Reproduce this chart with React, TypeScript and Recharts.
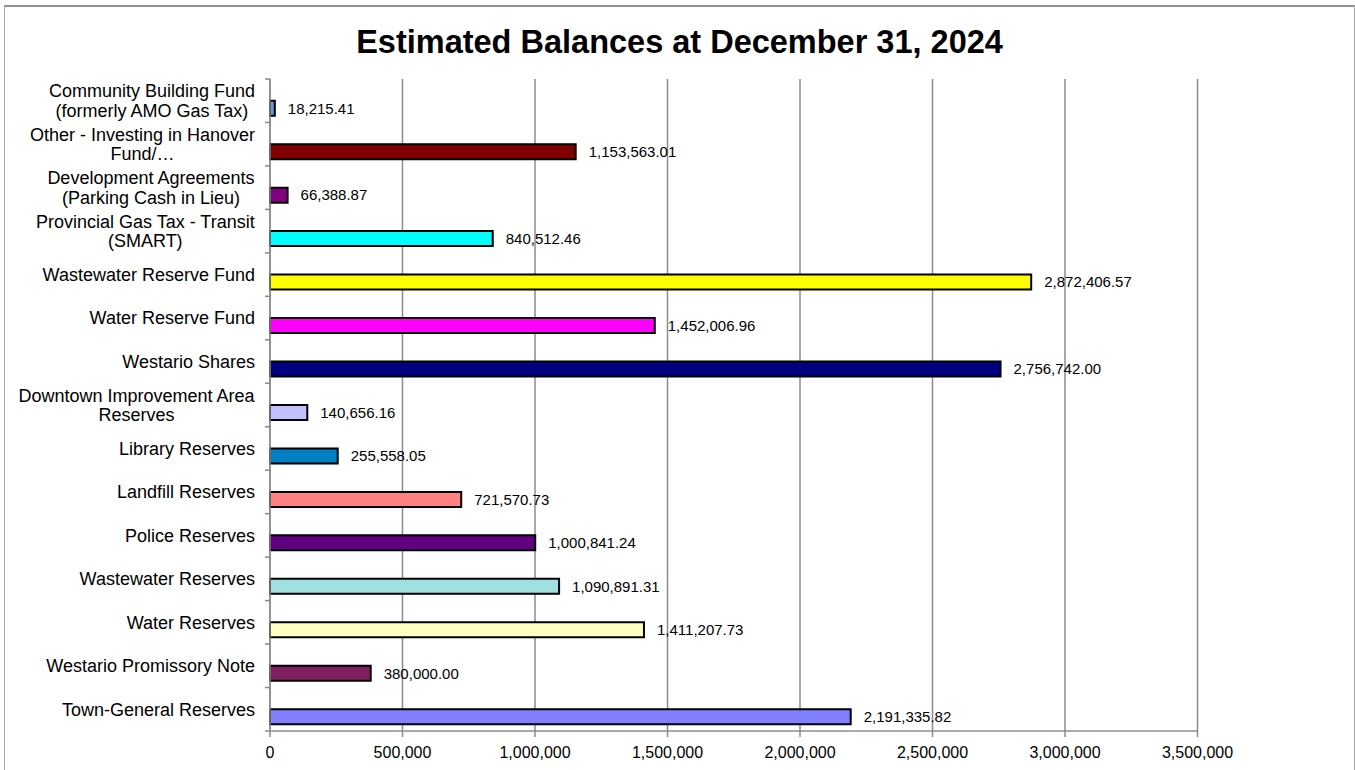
import { Bar, BarChart, CartesianGrid, Cell, LabelList, XAxis, YAxis } from 'recharts';

// top-to-bottom, as shown in the chart
const categories = [
  'Community Building Fund\n(formerly AMO Gas Tax)',
  'Other - Investing in Hanover\nFund/…',
  'Development Agreements\n(Parking Cash in Lieu)',
  'Provincial Gas Tax - Transit\n(SMART)',
  'Wastewater Reserve Fund',
  'Water Reserve Fund',
  'Westario Shares',
  'Downtown Improvement Area\nReserves',
  'Library Reserves',
  'Landfill Reserves',
  'Police Reserves',
  'Wastewater Reserves',
  'Water Reserves',
  'Westario Promissory Note',
  'Town-General Reserves',
];

const balances = [
  18215.41, 1153563.01, 66388.87, 840512.46, 2872406.57, 1452006.96, 2756742.0, 140656.16,
  255558.05, 721570.73, 1000841.24, 1090891.31, 1411207.73, 380000.0, 2191335.82,
];

const barColors = [
  '#5a9ad8', '#800000', '#800080', '#00ffff', '#ffff00', '#ff00ff', '#000080', '#c0c0ff',
  '#0080c0', '#ff8080', '#600080', '#a0e0e0', '#ffffc0', '#802060', '#8080ff',
];

const xTicks = [0, 500000, 1000000, 1500000, 2000000, 2500000, 3000000, 3500000];

const data = categories.map((name, i) => ({ name, value: balances[i] }));

const FONT = '"Liberation Sans", Arial, sans-serif';
const fmtTick = (v: number) => v.toLocaleString('en-US');
const fmtLabel = (v: any) =>
  Number(v).toLocaleString('en-US', { minimumFractionDigits: 2, maximumFractionDigits: 2 });

let ctx: CanvasRenderingContext2D | null = null;
const textWidth = (s: string) => {
  if (!ctx) {
    ctx = document.createElement('canvas').getContext('2d');
    if (ctx) ctx.font = '18px "Liberation Sans", Arial, sans-serif';
  }
  return ctx ? ctx.measureText(s).width : s.length * 9;
};

const CategoryTick = (props: any) => {
  const { x, y, payload, index } = props;
  const lines = String(payload.value).split('\n');
  const half = payload.offset ?? 0;
  const multi = lines.length > 1;
  const blockW = Math.max(...lines.map(textWidth));
  const tx = multi ? x - blockW / 2 : x;
  return (
    <g>
      <text x={tx} y={y} textAnchor={multi ? 'middle' : 'end'} fontSize={18} fill="#000" fontFamily={FONT}>
        {lines.map((line, i) => (
          <tspan key={i} x={tx} dy={i === 0 ? `${0.355 - (lines.length - 1) * 0.54}em` : '1.08em'}>
            {line}
          </tspan>
        ))}
      </text>
      <line x1={x + 10} x2={x + 15} y1={y + half} y2={y + half} stroke="#888" strokeWidth={1.5} />
      {index === 0 && <line x1={x + 10} x2={x + 15} y1={y - half} y2={y - half} stroke="#888" strokeWidth={1.5} />}
    </g>
  );
};

export default function App() {
  return (
    <div style={{ position: 'absolute', left: 0, top: 0, width: 1355, height: 770, background: '#fff' }}>
      <div
        style={{
          position: 'absolute',
          left: 4,
          top: 5,
          width: 1349,
          height: 763,
          borderLeft: '1px solid #a8a8a8',
          borderRight: '1px solid #a8a8a8',
          borderTop: '2px solid #909090',
        }}
      />
      <div
        style={{
          position: 'absolute',
          left: 4,
          top: 26,
          width: 1351,
          textAlign: 'center',
          fontFamily: FONT,
          fontWeight: 'bold',
          fontSize: 32.5,
          lineHeight: '32.5px',
          color: '#000',
        }}
      >
        Estimated Balances at December 31, 2024
      </div>
      <div style={{ position: 'absolute', left: 0, top: 0 }}>
        <BarChart
          width={1355}
          height={770}
          data={data}
          layout="vertical"
          margin={{ top: 79, right: 157.5, bottom: 0, left: 0 }}
          barCategoryGap="15.4%"
          barGap={0}
        >
          <CartesianGrid horizontal={false} stroke="#8c8c8c" strokeWidth={1.5} />
          <XAxis
            type="number"
            domain={[0, 3500000]}
            ticks={xTicks}
            tickFormatter={fmtTick}
            height={39}
            tickSize={6}
            tickMargin={10}
            axisLine={{ stroke: '#8c8c8c', strokeWidth: 1.5 }}
            tickLine={{ stroke: '#8c8c8c', strokeWidth: 1.5 }}
            tick={{ fontSize: 16, fill: '#000', fontFamily: FONT }}
            interval={0}
          />
          <YAxis
            type="category"
            dataKey="name"
            width={270}
            interval={0}
            tickSize={5}
            tickMargin={10}
            tickLine={false}
            axisLine={{ stroke: '#8c8c8c', strokeWidth: 1.5 }}
            tick={<CategoryTick />}
          />
          <Bar dataKey="blank" isAnimationActive={false} legendType="none" />
          <Bar dataKey="value" stroke="#000" strokeWidth={2} isAnimationActive={false}>
            {data.map((d, i) => (
              <Cell key={d.name} fill={barColors[i]} />
            ))}
            <LabelList
              dataKey="value"
              position="right"
              offset={13}
              formatter={fmtLabel}
              style={{ fontSize: 15, fill: '#000', fontFamily: FONT }}
            />
          </Bar>
        </BarChart>
      </div>
    </div>
  );
}
